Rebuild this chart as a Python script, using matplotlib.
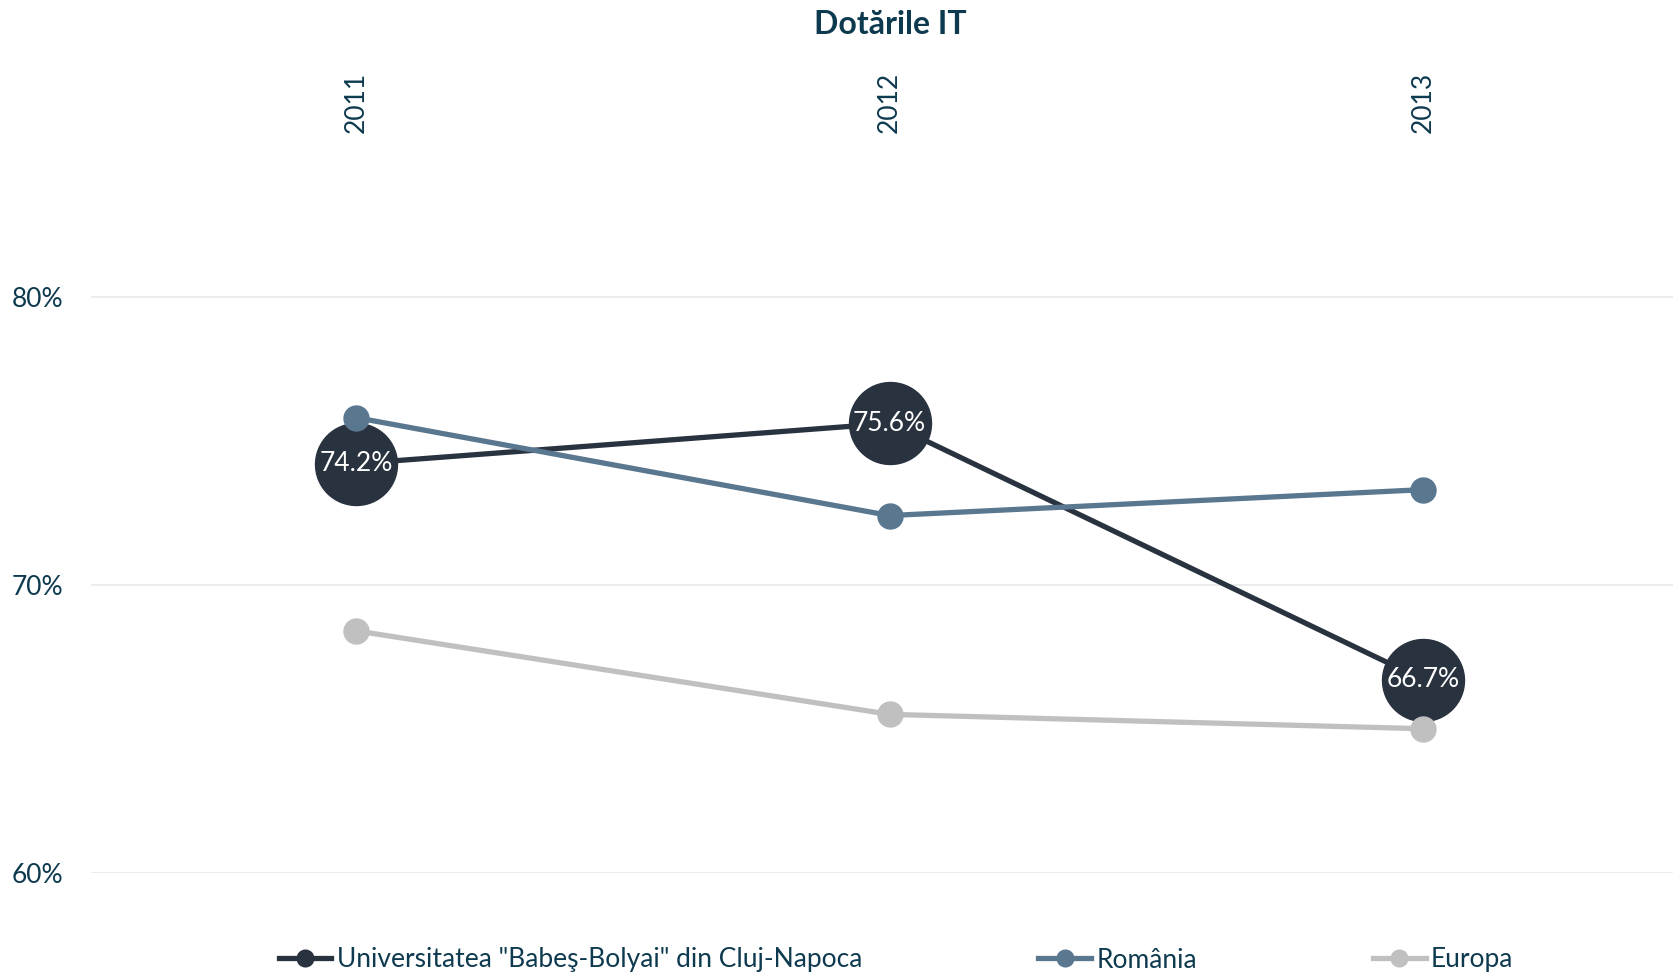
import matplotlib
matplotlib.use("Agg")
import matplotlib.pyplot as plt
from matplotlib.lines import Line2D

plt.rcParams['font.family'] = ['Lato', 'DejaVu Sans']

years = ["2011", "2012", "2013"]
ubb = [74.2, 75.6, 66.7]
romania = [75.8, 72.4, 73.3]
europa = [68.4, 65.5, 65.0]
series_names = ['Universitatea "Babeş-Bolyai" din Cluj-Napoca', "România", "Europa"]
y_ticks = [60, 70, 80]
title = "Dotările IT"

c_ubb = "#29323f"
c_ro = "#5a7790"
c_eu = "#c0c0c0"
c_text = "#0e3a4f"
fs = 19

W, H = 1673, 975
fig = plt.figure(figsize=(W / 100, H / 100), dpi=100)
ax_left = 90.7 / W
ax_bottom = (H - 872.8) / H
ax_top = (H - 140) / H
ax = fig.add_axes([ax_left, ax_bottom, 1 - ax_left, ax_top - ax_bottom])

x = list(range(len(years)))
lw = 3.8
ax.plot(x, ubb, color=c_ubb, lw=lw, marker="o", markersize=59, zorder=3)
for xi, v in zip(x, ubb):
    ax.text(xi, v, f"{v:.1f}%", color="white", ha="center", va="center",
            fontsize=fs, zorder=4)
ax.plot(x, romania, color=c_ro, lw=lw, marker="o", markersize=18, zorder=5)
ax.plot(x, europa, color=c_eu, lw=lw, marker="o", markersize=18, zorder=6)

# y scale: 80% at y=296.6 px, 60% at 872.8 px
ymax = 80 + (296.6 - 140) / 28.81
ax.set_ylim(60, ymax)
ax.set_xlim(-0.497, 2.468)

ax.set_yticks(y_ticks)
ax.set_yticklabels([f"{t}%" for t in y_ticks])
ax.grid(axis="y", color="#ebebeb", lw=1.3)
ax.set_axisbelow(True)
ax.tick_params(axis="y", length=0, pad=20, labelsize=fs, labelcolor=c_text)

ax.xaxis.tick_top()
ax.set_xticks(x)
ax.set_xticklabels(years, rotation=90)
ax.tick_params(axis="x", length=0, pad=5, labelsize=fs, labelcolor=c_text)

for s in ax.spines.values():
    s.set_visible(False)

fig.text(890 / W, 1 - 24.5 / H, title, ha="center", va="center",
         fontsize=23, fontweight="bold", color=c_text)

handles = [Line2D([0], [0], color=c, lw=lw, marker="o", markersize=12)
           for c in (c_ubb, c_ro, c_eu)]
leg = fig.legend(handles, series_names, loc="center", ncol=3,
                 bbox_to_anchor=(896 / W, 1 - 960 / H), frameon=False,
                 fontsize=fs, handlelength=2.0, handletextpad=0.2,
                 columnspacing=6.67, labelcolor=c_text)

fig.savefig("out.png", dpi=100)
